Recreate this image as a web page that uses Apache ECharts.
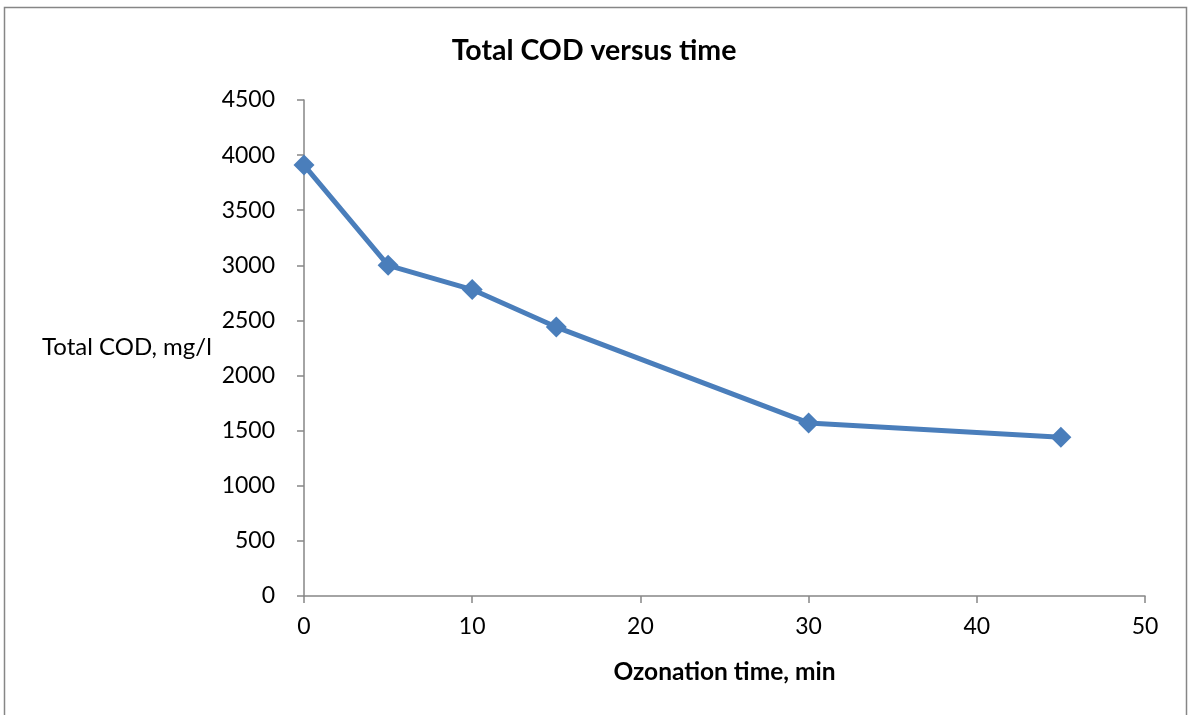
<!DOCTYPE html>
<html>
<head>
<meta charset="utf-8">
<script src="https://cdn.jsdelivr.net/npm/echarts@6/dist/echarts.min.js"></script>
<style>
  html, body { margin: 0; padding: 0; background: #fff; }
  #chart { width: 1188px; height: 715px; }
</style>
</head>
<body>
<div id="chart"></div>
<script>
// Ozonation time (min) and total COD (mg/l)
const ozonationTime = [0, 5, 10, 15, 30, 45];
const totalCOD = [3910, 3000, 2780, 2440, 1570, 1440];

const FONT = 'Lato, "Open Sans", sans-serif';
const AXIS_GREY = '#868686';

const chart = echarts.init(document.getElementById('chart'));
chart.setOption({
  backgroundColor: '#ffffff',
  animation: false,
  title: {
    text: 'Total COD versus time',
    left: 'center',
    top: 31,
    textStyle: { fontFamily: FONT, fontSize: 28.5, fontWeight: 'bold', color: '#000' }
  },
  graphic: [{
    type: 'rect',
    shape: { x: 4.5, y: 7.5, width: 1182, height: 720 },
    style: { fill: 'none', stroke: AXIS_GREY, lineWidth: 1.5 }
  }, {
    type: 'text',
    left: 42,
    top: 335,
    style: { text: 'Total COD, mg/l', font: '24px ' + FONT, fill: '#000' }
  }],
  grid: { left: 304, right: 43, top: 100, bottom: 119 },
  xAxis: {
    type: 'value',
    min: 0, max: 50, interval: 10,
    name: 'Ozonation time, min',
    nameLocation: 'middle',
    nameGap: 64,
    nameTextStyle: { fontFamily: FONT, fontSize: 24.5, fontWeight: 'bold', color: '#000' },
    axisLine: { show: true, lineStyle: { color: AXIS_GREY, width: 1.5 } },
    axisTick: { show: true, length: 7, lineStyle: { color: AXIS_GREY, width: 1.5 } },
    axisLabel: { margin: 19, fontFamily: FONT, fontSize: 23, color: '#000', formatter: v => String(v) },
    splitLine: { show: false }
  },
  yAxis: {
    type: 'value',
    min: 0, max: 4500, interval: 500,
    axisLine: { show: true, lineStyle: { color: AXIS_GREY, width: 1.5 } },
    axisTick: { show: true, length: 7, lineStyle: { color: AXIS_GREY, width: 1.5 } },
    axisLabel: { margin: 29, fontFamily: FONT, fontSize: 23, color: '#000', formatter: v => String(v) },
    splitLine: { show: false }
  },
  series: [{
    type: 'line',
    data: ozonationTime.map((t, i) => [t, totalCOD[i]]),
    symbol: 'diamond',
    symbolSize: 21,
    lineStyle: { color: '#4A7EBB', width: 5 },
    itemStyle: { color: '#4A7EBB' }
  }]
});
</script>
</body>
</html>
